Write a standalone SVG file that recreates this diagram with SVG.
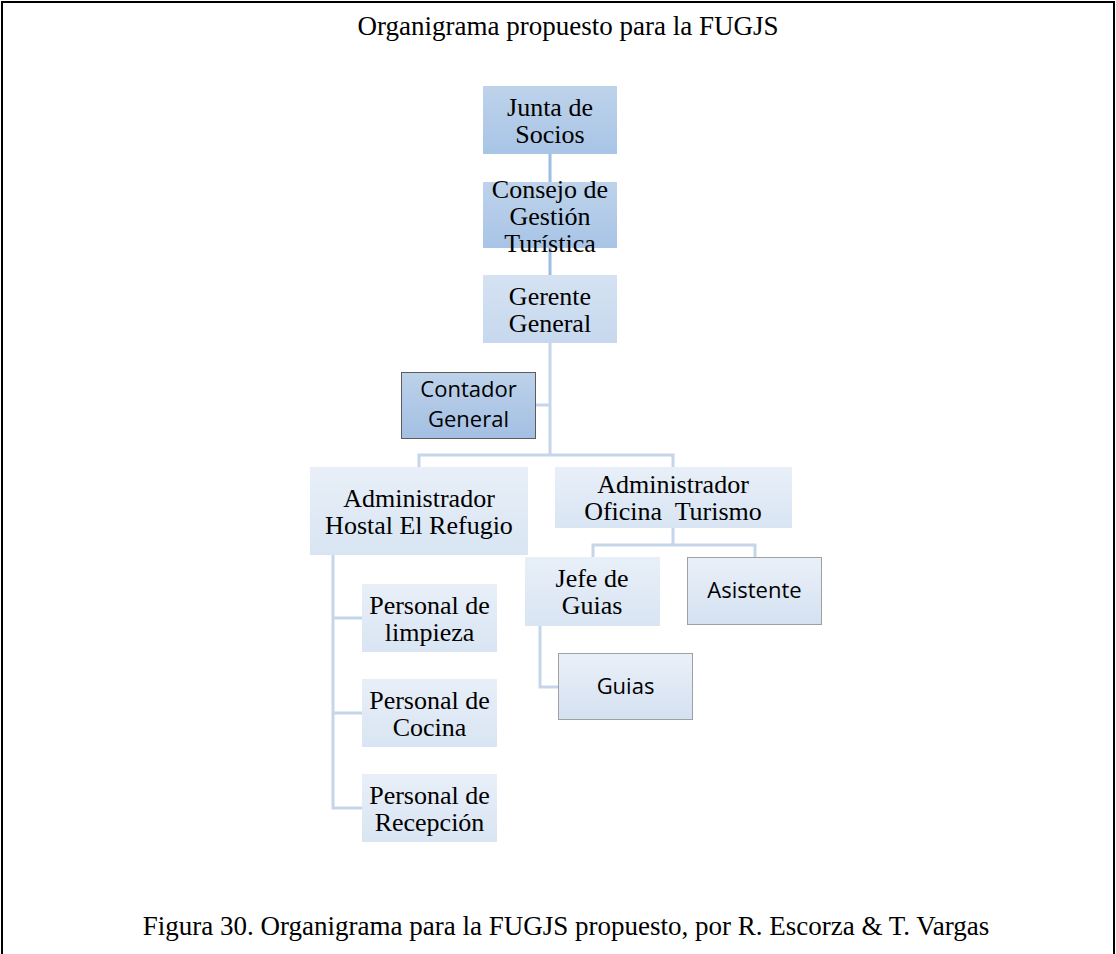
<svg xmlns="http://www.w3.org/2000/svg" width="1116" height="954" viewBox="0 0 1116 954">
<defs>
<linearGradient id="gDark" x1="0" y1="0" x2="0" y2="1"><stop offset="0" stop-color="#bed3eb"/><stop offset="1" stop-color="#a8c4e6"/></linearGradient>
<linearGradient id="gMid" x1="0" y1="0" x2="0" y2="1"><stop offset="0" stop-color="#d4e2f2"/><stop offset="1" stop-color="#c7d8ee"/></linearGradient>
<linearGradient id="gLight" x1="0" y1="0" x2="0" y2="1"><stop offset="0" stop-color="#e8eff8"/><stop offset="1" stop-color="#d9e5f3"/></linearGradient>
<linearGradient id="gBox" x1="0" y1="0" x2="0" y2="1"><stop offset="0" stop-color="#eaf0f8"/><stop offset="1" stop-color="#d4e1f1"/></linearGradient>
<linearGradient id="gCont" x1="0" y1="0" x2="0" y2="1"><stop offset="0" stop-color="#bdd2ea"/><stop offset="1" stop-color="#a3bfe3"/></linearGradient>
</defs>
<style>
.serif{font-family:"Liberation Serif","Times New Roman",serif;fill:#000;text-anchor:middle}
.n{font-size:26px}
.sans{font-family:"Open Sans","Liberation Sans",sans-serif;font-size:22px;fill:#000;text-anchor:middle}
.conn{fill:none;stroke:#c5d5ea;stroke-width:3}
.connD{fill:none;stroke:#9dbde3;stroke-width:3}
</style>
<rect x="0" y="0" width="1116" height="954" fill="#fff"/>
<rect x="2" y="2" width="1112" height="970" fill="none" stroke="#000" stroke-width="2"/>
<text class="serif" x="568" y="35" font-size="27">Organigrama propuesto para la FUGJS</text>
<text class="serif" x="566" y="935" font-size="27">Figura 30. Organigrama para la FUGJS propuesto, por R. Escorza &amp; T. Vargas</text>
<g id="connectors">
<path class="connD" d="M550 154V182M550 248V275"/>
<path class="conn" d="M550 343V455M536 405H550M419 467V455H673V467"/>
<path class="conn" d="M673 528V545M593 557V545H755V557"/>
<path class="conn" d="M540 626V687H558"/>
<path class="conn" d="M333 555V808H362M333 618H362M333 713H362"/>
</g>
<g id="junta">
<rect x="483" y="86" width="134" height="68" fill="url(#gDark)"/>
<text class="serif n" x="550" y="115.5">Junta de</text>
<text class="serif n" x="550" y="142.5">Socios</text>
</g>
<g id="consejo">
<rect x="483" y="182" width="134" height="66" fill="url(#gDark)"/>
<text class="serif n" x="550" y="197.5">Consejo de</text>
<text class="serif n" x="550" y="224.5">Gestión</text>
<text class="serif n" x="550" y="251.5">Turística</text>
</g>
<g id="gerente">
<rect x="483" y="275" width="134" height="68" fill="url(#gMid)"/>
<text class="serif n" x="550" y="304.5">Gerente</text>
<text class="serif n" x="550" y="331.5">General</text>
</g>
<g id="contador">
<rect x="401.5" y="372.5" width="134" height="66" fill="url(#gCont)" stroke="#5c5c5c" stroke-width="1"/>
<text class="sans" x="468.5" y="397">Contador</text>
<text class="sans" x="468.5" y="427">General</text>
</g>
<g id="hostal">
<rect x="310" y="467" width="218" height="88" fill="url(#gLight)"/>
<text class="serif n" x="419" y="506.5">Administrador</text>
<text class="serif n" x="419" y="533.5">Hostal El Refugio</text>
</g>
<g id="oficina">
<rect x="555" y="467" width="237" height="61" fill="url(#gLight)"/>
<text class="serif n" x="673" y="493">Administrador</text>
<text class="serif n" x="673" y="520" xml:space="preserve">Oficina  Turismo</text>
</g>
<g id="jefe">
<rect x="525" y="557" width="135" height="69" fill="url(#gLight)"/>
<text class="serif n" x="592" y="587">Jefe de</text>
<text class="serif n" x="592" y="614">Guias</text>
</g>
<g id="asistente">
<rect x="687.5" y="557.5" width="134" height="67" fill="url(#gBox)" stroke="#a0a0a0" stroke-width="1"/>
<text class="sans" x="754.5" y="598">Asistente</text>
</g>
<g id="guias">
<rect x="558.5" y="653.5" width="134" height="66" fill="url(#gBox)" stroke="#a0a0a0" stroke-width="1"/>
<text class="sans" x="625.5" y="694">Guias</text>
</g>
<g id="limpieza">
<rect x="362" y="584" width="135" height="68" fill="url(#gLight)"/>
<text class="serif n" x="429.5" y="613.5">Personal de</text>
<text class="serif n" x="429.5" y="640.5">limpieza</text>
</g>
<g id="cocina">
<rect x="362" y="679" width="135" height="68" fill="url(#gLight)"/>
<text class="serif n" x="429.5" y="708.5">Personal de</text>
<text class="serif n" x="429.5" y="735.5">Cocina</text>
</g>
<g id="recepcion">
<rect x="362" y="774" width="135" height="68" fill="url(#gLight)"/>
<text class="serif n" x="429.5" y="803.5">Personal de</text>
<text class="serif n" x="429.5" y="830.5">Recepción</text>
</g>
</svg>
